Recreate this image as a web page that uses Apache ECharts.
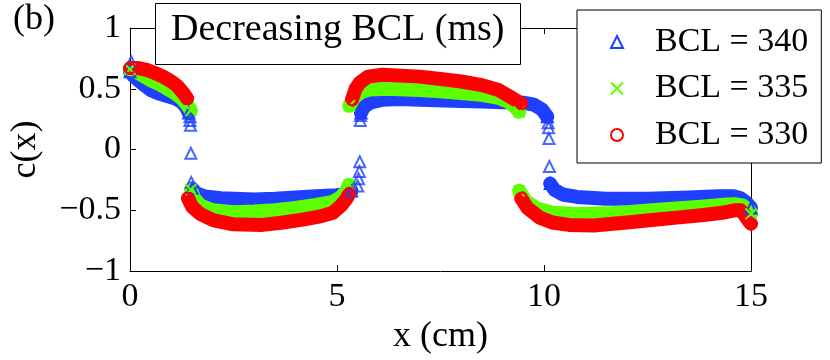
<!DOCTYPE html>
<html><head><meta charset="utf-8">
<script src="https://cdn.jsdelivr.net/npm/echarts@6/dist/echarts.min.js"></script>
<style>html,body{margin:0;padding:0;background:#fff}#c{width:830px;height:360px}</style>
</head><body><div id="c"></div>
<script>
const titleText = 'Decreasing BCL (ms)';
const panelLabel = '(b)';
const xName = 'x (cm)';
const yName = 'c(x)';
const seriesNames = ['BCL = 340', 'BCL = 335', 'BCL = 330'];

// BCL = 340 (blue triangles)
const bcl340Seg1 = [[0,0.64],[0.1,0.6],[0.2,0.57],[0.35,0.53],[0.5,0.49],[0.7,0.46],[0.9,0.44],[1.1,0.42],[1.25,0.39],[1.35,0.35],[1.42,0.3]];
const bcl340Seg2 = [[1.5,-0.32],[1.6,-0.36],[1.8,-0.385],[2.2,-0.4],[3,-0.41],[3.5,-0.405],[4,-0.395],[4.5,-0.385],[5,-0.375],[5.2,-0.365],[5.35,-0.34]];
const bcl340Seg3 = [[5.58,0.3],[5.65,0.35],[5.8,0.385],[6.1,0.41],[6.5,0.415],[7,0.41],[8,0.4],[8.5,0.395],[9,0.39],[9.5,0.385],[9.75,0.37],[9.95,0.33],[10.08,0.27]];
const bcl340Seg4 = [[10.15,-0.28],[10.25,-0.33],[10.45,-0.37],[10.8,-0.39],[11.5,-0.405],[12.5,-0.405],[13.5,-0.395],[14.2,-0.385],[14.6,-0.385],[14.75,-0.4],[14.9,-0.44],[15,-0.48]];
const bcl340Jumps = [[0.03,0.72],[1.45,0.27],[1.45,0.24],[1.46,0.2],[1.47,-0.03],[1.48,-0.27],[5.5,-0.3],[5.52,-0.24],[5.54,-0.18],[5.55,-0.1],[5.56,0.24],[5.57,0.28],[10.1,0.22],[10.11,0.18],[10.12,0.09],[10.13,-0.14]];

// BCL = 335 (green crosses)
const bcl335Seg1 = [[0,0.66],[0.15,0.64],[0.3,0.61],[0.5,0.57],[0.7,0.54],[0.9,0.5],[1.1,0.46],[1.25,0.42],[1.4,0.36],[1.47,0.32]];
const bcl335Seg2 = [[1.47,-0.33],[1.55,-0.4],[1.7,-0.46],[2,-0.5],[2.5,-0.515],[3,-0.51],[3.5,-0.5],[4,-0.48],[4.5,-0.455],[4.9,-0.43],[5.1,-0.39],[5.22,-0.34],[5.29,-0.29]];
const bcl335Seg3 = [[5.3,0.36],[5.4,0.42],[5.55,0.47],[5.8,0.495],[6.2,0.5],[7,0.49],[7.5,0.48],[8,0.465],[8.5,0.45],[8.9,0.425],[9.15,0.39],[9.3,0.35],[9.4,0.31]];
const bcl335Seg4 = [[9.4,-0.34],[9.55,-0.42],[9.8,-0.48],[10.2,-0.52],[10.8,-0.53],[11.5,-0.525],[12,-0.515],[12.6,-0.5],[13.2,-0.485],[13.8,-0.47],[14.3,-0.455],[14.6,-0.45],[14.8,-0.46],[14.95,-0.5],[15,-0.53]];

// BCL = 330 (red circles)
const bcl330Seg1 = [[0,0.67],[0.2,0.67],[0.4,0.655],[0.6,0.63],[0.8,0.6],[1.0,0.56],[1.15,0.52],[1.3,0.46],[1.38,0.42]];
const bcl330Seg2 = [[1.4,-0.4],[1.5,-0.47],[1.7,-0.53],[2,-0.58],[2.5,-0.615],[3.2,-0.62],[3.7,-0.6],[4.2,-0.575],[4.6,-0.55],[4.9,-0.52],[5.1,-0.46],[5.22,-0.41],[5.3,-0.36]];
const bcl330Seg3 = [[5.36,0.41],[5.45,0.5],[5.55,0.55],[5.75,0.6],[6.1,0.615],[7,0.6],[7.5,0.58],[8,0.56],[8.5,0.53],[8.9,0.49],[9.15,0.44],[9.35,0.4],[9.45,0.38]];
const bcl330Seg4 = [[9.45,-0.4],[9.6,-0.48],[9.9,-0.56],[10.2,-0.6],[10.6,-0.62],[11.2,-0.625],[12,-0.6],[12.6,-0.58],[13.2,-0.56],[13.8,-0.54],[14.3,-0.52],[14.6,-0.5],[14.75,-0.5],[14.85,-0.54],[14.95,-0.59],[15,-0.61]];

const colors = ['#1f3fff', '#5cff00', '#ff0000'];
const crossPath = 'path://M0 0L10 10M10 0L0 10';
const symbols = ['triangle', crossPath, 'circle'];
const FONT = 'Liberation Serif';

function band(name, data, idx) {
  const last = data.length - 1;
  return {
    type: 'line', name: name, data: data,
    showSymbol: true, symbol: symbols[idx],
    symbolSize: (v, p) => (p.dataIndex === 0 || p.dataIndex === last ? 11 : 0),
    lineStyle: { color: colors[idx], width: 14, cap: 'round', join: 'round' },
    itemStyle: { color: 'rgba(0,0,0,0)', borderColor: colors[idx], borderWidth: 2 },
    emphasis: { disabled: true }, silent: true, z: 2
  };
}
function dots(name, data, idx) {
  return {
    type: 'scatter', name: name, data: data,
    symbol: symbols[idx], symbolSize: 11,
    itemStyle: { color: 'rgba(0,0,0,0)', borderColor: colors[idx], borderWidth: 2 },
    emphasis: { disabled: true }, silent: true, z: 2
  };
}

const series = [
  band(seriesNames[0], bcl340Seg1, 0), band(seriesNames[0], bcl340Seg2, 0),
  band(seriesNames[0], bcl340Seg3, 0), band(seriesNames[0], bcl340Seg4, 0),
  dots(seriesNames[0], bcl340Jumps, 0),
  band(seriesNames[1], bcl335Seg1, 1), band(seriesNames[1], bcl335Seg2, 1),
  band(seriesNames[1], bcl335Seg3, 1), band(seriesNames[1], bcl335Seg4, 1),
  band(seriesNames[2], bcl330Seg1, 2), band(seriesNames[2], bcl330Seg2, 2),
  band(seriesNames[2], bcl330Seg3, 2), band(seriesNames[2], bcl330Seg4, 2)
];

const axisLine = { show: true, onZero: false, lineStyle: { color: '#000', width: 1 } };
const axisTick = { show: true, inside: true, length: 6, lineStyle: { color: '#000', width: 1 } };
const fmt = v => (v < 0 ? '\u2212' + String(-v) : String(v));

const chart = echarts.init(document.getElementById('c'), null, { renderer: 'canvas' });
chart.setOption({
  animation: false,
  backgroundColor: '#fff',
  grid: { left: 127, right: 79, top: 28, bottom: 86 },
  title: {
    text: titleText, left: 155, top: 3,
    backgroundColor: '#fff', borderColor: '#000', borderWidth: 1,
    padding: [5, 16, 13, 16],
    textStyle: { fontFamily: FONT, fontSize: 38, fontWeight: 'normal', color: '#000', lineHeight: 44 },
    z: 10
  },
  legend: {
    orient: 'vertical', left: 577, top: 10,
    padding: [14, 13, 10, 33], itemGap: 10.5,
    itemWidth: 12, itemHeight: 12,
    backgroundColor: '#fff', borderColor: '#000', borderWidth: 1,
    selectedMode: false, z: 10,
    textStyle: { fontFamily: FONT, fontSize: 34, color: '#000', lineHeight: 36, padding: [0, 0, 0, 27] },
    data: seriesNames.map((n, i) => ({
      name: n, icon: symbols[i],
      itemStyle: { color: 'rgba(0,0,0,0)', borderColor: colors[i], borderWidth: 2 }
    }))
  },
  graphic: [{
    type: 'text', left: 13, top: 2, z: 10,
    style: { text: panelLabel, font: '36px "Liberation Serif"', fill: '#000' }
  }],
  xAxis: [{
    type: 'value', min: 0, max: 15, interval: 5, position: 'bottom',
    axisLine: axisLine, axisTick: axisTick, splitLine: { show: false },
    axisLabel: { fontFamily: FONT, fontSize: 34, color: '#000', margin: 9 },
    name: xName, nameLocation: 'middle', nameGap: 47,
    nameTextStyle: { fontFamily: FONT, fontSize: 36, color: '#000' }
  }, {
    type: 'value', min: 0, max: 15, interval: 5, position: 'top',
    axisLine: axisLine, axisTick: axisTick, splitLine: { show: false },
    axisLabel: { show: false }
  }],
  yAxis: [{
    type: 'value', min: -1, max: 1, interval: 0.5, position: 'left',
    axisLine: axisLine, axisTick: axisTick, splitLine: { show: false },
    axisLabel: { fontFamily: FONT, fontSize: 34, color: '#000', margin: 9, formatter: fmt },
    name: yName, nameLocation: 'middle', nameGap: 86,
    nameTextStyle: { fontFamily: FONT, fontSize: 36, color: '#000' }
  }, {
    type: 'value', min: -1, max: 1, interval: 0.5, position: 'right',
    axisLine: axisLine, axisTick: axisTick, splitLine: { show: false },
    axisLabel: { show: false }
  }],
  series: series
});
</script>
</body></html>
